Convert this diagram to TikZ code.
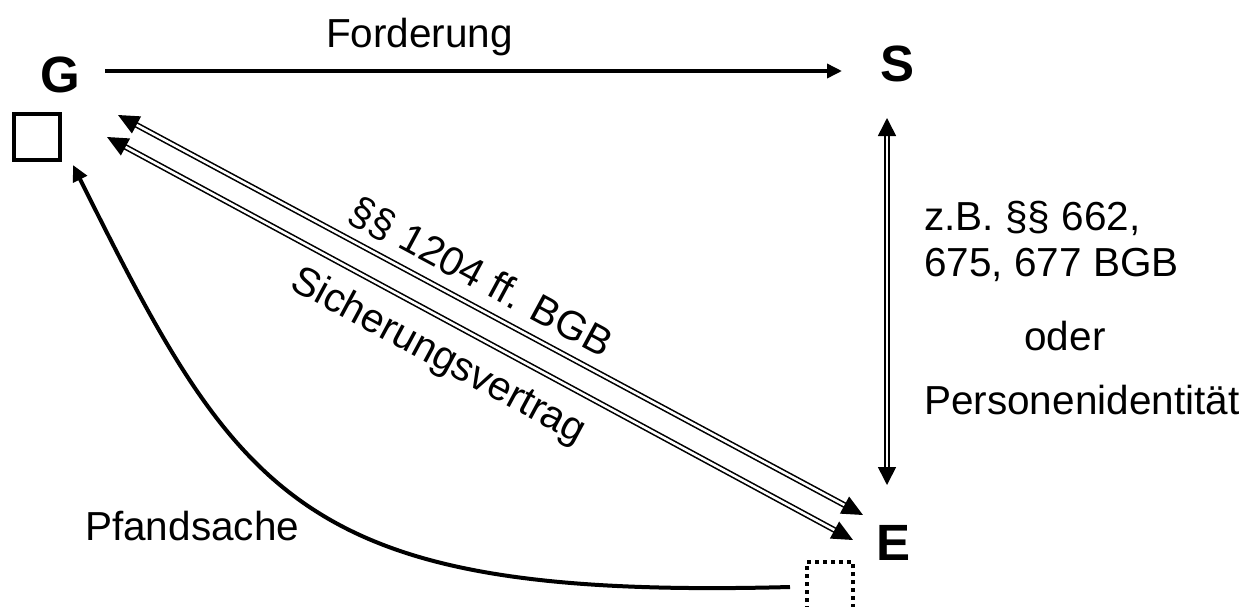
\documentclass[tikz,border=0pt]{standalone}
\usepackage{fontspec}
\setmainfont{Liberation Sans}
\usetikzlibrary{arrows.meta}
\tikzset{
  lbl/.style={inner sep=0pt, font=\fontsize{40.5}{46}\selectfont},
  party/.style={inner sep=0pt, anchor=base west, font=\fontsize{51}{56}\selectfont\bfseries},
  dbl/.style={double, line width=1.6pt, double distance=2.6pt},
  dtip/.tip={Triangle[length=21pt,width=19pt]},
  vtip/.tip={Triangle[length=18pt,width=18pt]},
}
\begin{document}
\begin{tikzpicture}[x=1pt,y=-1pt]
\useasboundingbox (0,0) rectangle (1256,606);
% parties
\node[party] (G) at (40,92) {G};
\node[party] (S) at (880,81) {S};
\node[party] (E) at (876,560) {E};
% boxes
\node[draw, line width=4pt, minimum width=46pt, minimum height=46pt, inner sep=0pt] (boxG) at (37,137) {};
\node[draw, line width=3.5pt, dash pattern=on 4pt off 4pt, minimum width=46pt, minimum height=48pt, inner sep=0pt] (boxE) at (830,586) {};
% endpoints
\coordinate (fA) at (105,71);
\coordinate (fB) at (842,71);
\coordinate (vA) at (887,118);
\coordinate (vB) at (887,485);
\coordinate (uA) at (118,115);
\coordinate (uB) at (863,515);
\coordinate (lA) at (107,137);
\coordinate (lB) at (853,540);
\coordinate (cA) at (790,587);
\coordinate (cB) at (73,165);
% Forderung
\draw[line width=3.5pt, -{Triangle[length=15pt,width=14pt]}] (fA) -- (fB);
\node[lbl, anchor=base west] (ford) at (326,47) {Forderung};
% vertical
\draw[dbl, vtip-vtip] (vA) -- (vB);
% diagonals
\draw[dbl, dtip-dtip] (uA) -- (uB);
\draw[dbl, dtip-dtip] (lA) -- (lB);
\node[lbl, anchor=base, rotate=-28.3] (par) at (475,289) {§§ 1204 ff. BGB};
\node[lbl, anchor=base, rotate=-28.3] (sich) at (433,366) {Sicherungsvertrag};
% curve
\draw[line width=4pt, -{Triangle[length=16pt,width=15pt]}] (cA) .. controls (300,600) and (240,500) .. (cB);
\node[lbl, anchor=base west] (pf) at (85,540) {Pfandsache};
% right text
\node[lbl, anchor=base west] (t1) at (924,230) {z.B. §§ 662,};
\node[lbl, anchor=base west] (t2) at (924,276) {675, 677 BGB};
\node[lbl, anchor=base] (t3) at (1065,350) {oder};
\node[lbl, anchor=base west] (t4) at (924,414) {Personenidentität};
\end{tikzpicture}
\end{document}
